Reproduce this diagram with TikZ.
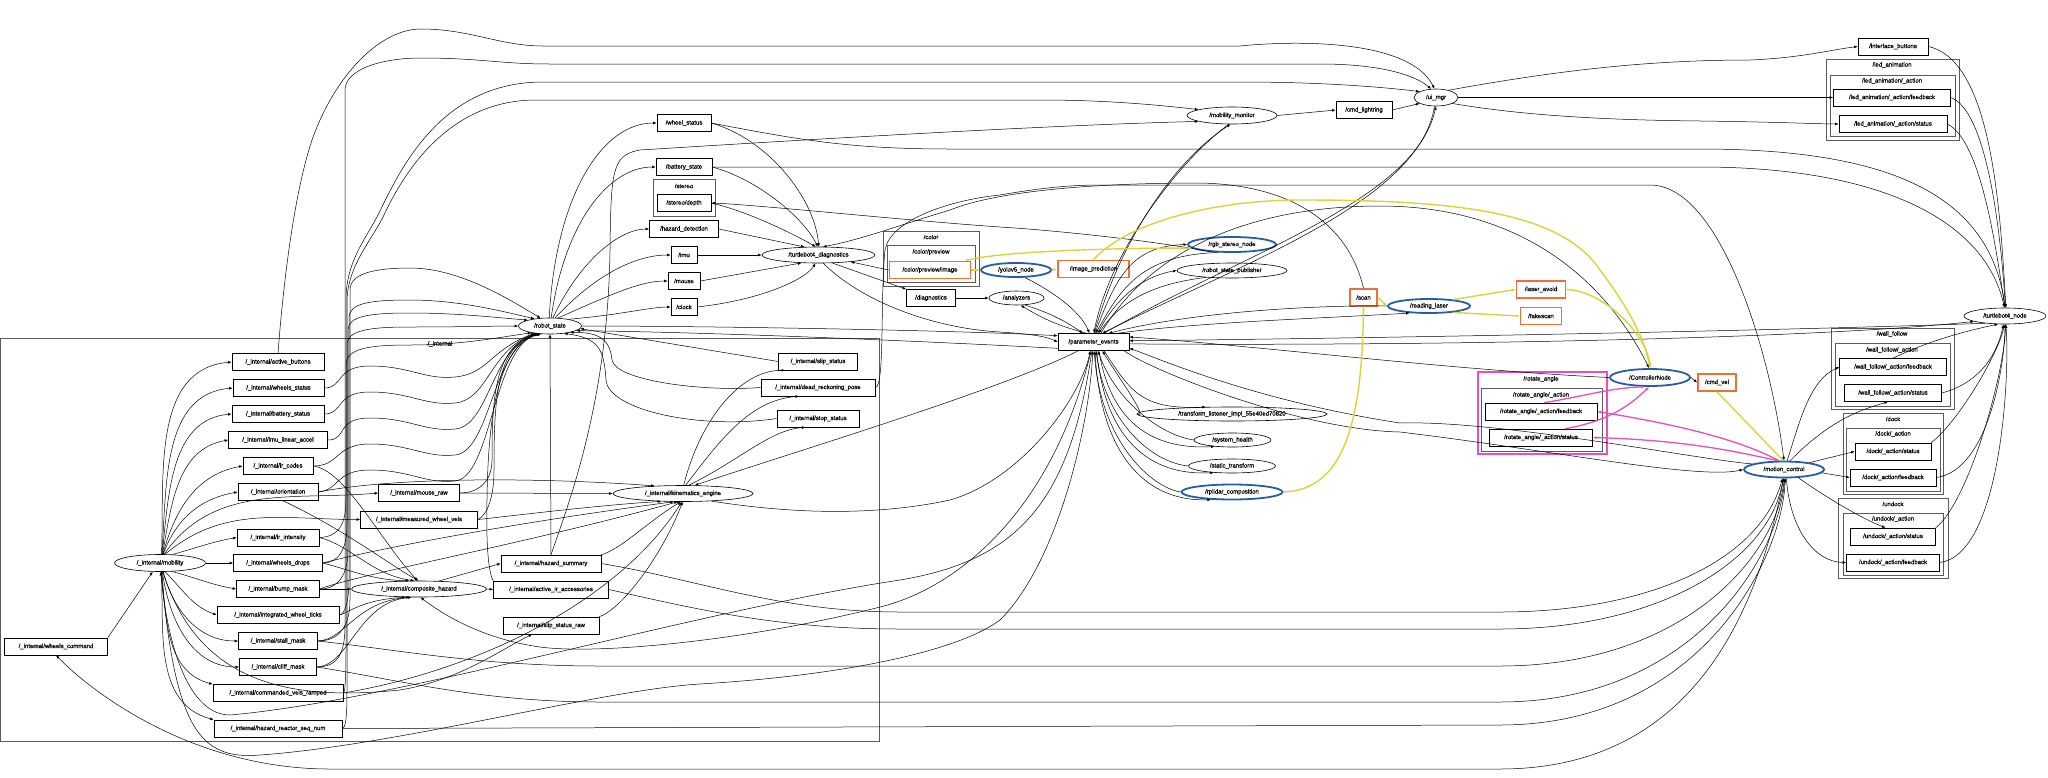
\documentclass[tikz,border=0pt]{standalone}
\usepackage{fontspec}
\setmainfont{Liberation Sans}
\newfontfamily\lblfont{Liberation Sans}[FakeBold=0.6]
\usetikzlibrary{arrows.meta,shapes.geometric}
\definecolor{orng}{RGB}{236,112,58}
\definecolor{bl}{RGB}{40,92,165}
\definecolor{yel}{RGB}{214,214,60}
\definecolor{pnk}{RGB}{228,80,190}
\definecolor{clg}{RGB}{90,90,90}
\newcommand\lbl{\lblfont\fontsize{6}{7}\selectfont}
\begin{document}
\begin{tikzpicture}[x=1pt,y=-1pt,
 tp/.style={draw, rectangle, minimum height=17pt, inner sep=0pt, line width=0.6pt, font=\lbl},
 nd/.style={draw, ellipse, minimum height=16pt, inner sep=0pt, line width=0.6pt, font=\lbl},
 hot/.style={draw=orng, line width=1.6pt},
 blu/.style={draw=bl, line width=1.8pt},
 ed/.style={-{Latex[length=3.6pt,width=2.8pt]}, line width=0.5pt},
 ye/.style={ed, draw=yel, line width=1.4pt},
 pk/.style={ed, draw=pnk, line width=1.3pt},
 clu/.style={draw=clg, line width=0.7pt},
 cll/.style={font=\lbl}]
\useasboundingbox[fill=white] (0,0) rectangle (2048,777);

% ---------- clusters ----------
\draw[clu] (0,338) rectangle (879,741);
\node[cll] (L1) at (440,344) {/\_internal};
\draw[clu] (653,179) rectangle (715,216);
\node[cll] (L2) at (684,186) {/stereo};
\draw[clu] (883,231) rectangle (979,286);
\node[cll] (L3) at (931,237) {/color};
\draw[clu] (887,245) rectangle (975,282);
\node[cll] (L4) at (931,252) {/color/preview};
\draw[clu] (1826,59) rectangle (1959,140);
\node[cll] (L5) at (1892,65) {/led\_animation};
\draw[clu] (1830,75) rectangle (1955,136);
\node[cll] (L6) at (1892,81) {/led\_animation/\_action};
\draw[clu] (1831,328) rectangle (1954,409);
\node[cll] (L7) at (1892,334) {/wall\_follow};
\draw[clu] (1835,343) rectangle (1950,406);
\node[cll] (L8) at (1892,350) {/wall\_follow/\_action};
\draw[draw=pnk, line width=1.5pt] (1478,372) rectangle (1607,454);
\node[cll] (L9) at (1541,379) {/rotate\_angle};
\draw[clu] (1481,388) rectangle (1602,451);
\node[cll] (L10) at (1541,395) {/rotate\_angle/\_action};
\draw[clu] (1843,413) rectangle (1943,494);
\node[cll] (L11) at (1893,419) {/dock};
\draw[clu] (1846,428) rectangle (1940,491);
\node[cll] (L12) at (1893,434) {/dock/\_action};
\draw[clu] (1838,498) rectangle (1948,578);
\node[cll] (L13) at (1893,504) {/undock};
\draw[clu] (1843,513) rectangle (1943,575);
\node[cll] (L14) at (1893,519) {/undock/\_action};

% ---------- topics ----------
\node[tp,minimum width=92pt] (ab) at (278,362) {/\_internal/active\_buttons};
\node[tp,minimum width=91pt] (ws) at (278.5,388) {/\_internal/wheels\_status};
\node[tp,minimum width=92pt] (bs) at (278,414) {/\_internal/battery\_status};
\node[tp,minimum width=99pt] (ila) at (278,440) {/\_internal/imu\_linear\_accel};
\node[tp,minimum width=70pt] (irc) at (278,466) {/\_internal/ir\_codes};
\node[tp,minimum width=80pt] (ori) at (278,492) {/\_internal/orientation};
\node[tp,minimum width=81pt] (mr) at (419,493) {/\_internal/mouse\_raw};
\node[tp,minimum width=117pt] (mwv) at (419,519.5) {/\_internal/measured\_wheel\_vels};
\node[tp,minimum width=82pt] (iri) at (278,537.5) {/\_internal/ir\_intensity};
\node[tp,minimum width=89pt] (wd) at (278,563) {/\_internal/wheels\_drops};
\node[tp,minimum width=83pt] (bm) at (278,589) {/\_internal/bump\_mask};
\node[tp,minimum width=122pt] (iwt) at (278,615) {/\_internal/integrated\_wheel\_ticks};
\node[tp,minimum width=79pt] (sm) at (278,641) {/\_internal/stall\_mask};
\node[tp,minimum width=77pt] (cm) at (278,667) {/\_internal/cliff\_mask};
\node[tp,minimum width=130pt] (cvr) at (278,693) {/\_internal/commanded\_vels\_ramped};
\node[tp,minimum width=128pt] (hrs) at (278,728.5) {/\_internal/hazard\_reactor\_seq\_num};
\node[tp,minimum width=103pt] (wc) at (56,646.5) {/\_internal/wheels\_command};
\node[tp,minimum width=100pt] (hs) at (551,563.5) {/\_internal/hazard\_summary};
\node[tp,minimum width=115pt] (aia) at (551,589.5) {/\_internal/active\_ir\_accessories};
\node[tp,minimum width=96pt] (ssr) at (551,625.5) {/\_internal/slip\_status\_raw};
\node[tp,minimum width=79pt] (ss) at (818,361.5) {/\_internal/slip\_status};
\node[tp,minimum width=114pt] (drp) at (818,387.5) {/\_internal/dead\_reckoning\_pose};
\node[tp,minimum width=82pt] (sts) at (818,418.5) {/\_internal/stop\_status};
\node[tp,minimum width=54pt] (whs) at (684,123) {/wheel\_status};
\node[tp,minimum width=56pt] (bst) at (684,167) {/battery\_state};
\node[tp,minimum width=54pt] (sd) at (684,203) {/stereo/depth};
\node[tp,minimum width=69pt] (hd) at (684,229) {/hazard\_detection};
\node[tp,minimum width=26pt] (imu) at (684,255) {/imu};
\node[tp,minimum width=32pt] (mou) at (684,281) {/mouse};
\node[tp,minimum width=26pt] (clk) at (684,307) {/clock};
\node[tp,hot,minimum width=81pt] (cpi) at (930,270) {/color/preview/image};
\node[tp,minimum width=49pt] (dg) at (931,298) {/diagnostics};
\node[tp,hot,minimum width=71pt] (ip) at (1093.5,269) {/image\_prediction};
\node[tp,minimum width=71pt] (pe) at (1093.5,342) {/parameter\_events};
\node[tp,hot,minimum width=27pt] (scan) at (1363.5,297.5) {/scan};
\node[tp,hot,minimum width=49pt] (la) at (1541,289.5) {/laser\_avoid};
\node[tp,hot,minimum width=41pt] (fs) at (1541,316) {/fakescan};
\node[tp,hot,minimum width=38pt] (cv) at (1717,382.5) {/cmd\_vel};
\node[tp,minimum width=56pt] (clr) at (1364,110) {/cmd\_lightring};
\node[tp,minimum width=70pt] (ib) at (1893,46.5) {/interface\_buttons};
\node[tp,minimum width=117pt] (lf) at (1892,97.5) {/led\_animation/\_action/feedback};
\node[tp,minimum width=108pt] (ls) at (1893,124) {/led\_animation/\_action/status};
\node[tp,minimum width=107pt] (wff) at (1893,367) {/wall\_follow/\_action/feedback};
\node[tp,minimum width=97pt] (wfs) at (1893,393) {/wall\_follow/\_action/status};
\node[tp,minimum width=112pt] (rf) at (1541,411.5) {/rotate\_angle/\_action/feedback};
\node[tp,minimum width=103pt] (rs) at (1541,437.5) {/rotate\_angle/\_action/status};
\node[tp,minimum width=76pt] (dks) at (1893,451.5) {/dock/\_action/status};
\node[tp,minimum width=86pt] (dkf) at (1893,477.5) {/dock/\_action/feedback};
\node[tp,minimum width=85pt] (uds) at (1893,536.5) {/undock/\_action/status};
\node[tp,minimum width=93pt] (udf) at (1893,562.5) {/undock/\_action/feedback};

% ---------- nodes ----------
\node[nd,minimum width=91pt,minimum height=17pt] (mob) at (160,563) {/\_internal/mobility};
\node[nd,minimum width=135pt] (ch) at (419,589) {/\_internal/composite\_hazard};
\node[nd,minimum width=140pt] (ke) at (683,493.5) {/\_internal/kinematics\_engine};
\node[nd,minimum width=63pt] (rst) at (550,326) {/robot\_state};
\node[nd,minimum width=113pt] (td) at (818.5,255) {/turtlebot4\_diagnostics};
\node[nd,minimum width=55pt,minimum height=14pt] (an) at (1016.5,298) {/analyzers};
\node[nd,blu,minimum width=70pt,minimum height=14pt] (yolo) at (1016,270) {/yolov5\_node};
\node[nd,blu,minimum width=88pt,minimum height=15pt] (rgb) at (1232,244.5) {/rgb\_stereo\_node};
\node[nd,minimum width=110pt,minimum height=15pt] (rsp) at (1232,270.5) {/robot\_state\_publisher};
\node[nd,minimum width=190pt,minimum height=14pt] (tl) at (1232,414) {/transform\_listener\_impl\_55e40ed70820};
\node[nd,minimum width=77pt,minimum height=14pt] (sh) at (1232.5,440) {/system\_health};
\node[nd,minimum width=87pt,minimum height=14pt] (stf) at (1232,466) {/static\_transform};
\node[nd,blu,minimum width=101pt,minimum height=15pt] (rp) at (1232,492) {/rplidar\_composition};
\node[nd,minimum width=90pt,minimum height=17pt] (mm) at (1232,115.5) {/mobility\_monitor};
\node[nd,minimum width=44pt,minimum height=17pt] (ui) at (1436,97.5) {/ui\_mgr};
\node[nd,blu,minimum width=82pt,minimum height=14pt] (rl) at (1429,306) {/reading\_laser};
\node[nd,blu,minimum width=80pt,minimum height=17pt] (cn) at (1650,377.5) {/ControllerNode};
\node[nd,blu,minimum width=80pt] (mc) at (1784,469.5) {/motion\_control};
\node[nd,minimum width=82pt] (tbn) at (2005,316) {/turtlebot4\_node};

% ---------- mobility fan-out ----------
\draw[ed] (mob.80) to[out=88,in=185] (ab.west);
\draw[ed] (mob.78) to[out=86,in=185] (ws.west);
\draw[ed] (mob.76) to[out=84,in=185] (bs.west);
\draw[ed] (mob.74) to[out=80,in=190] (ila.west);
\draw[ed] (mob.72) to[out=75,in=190] (irc.west);
\draw[ed] (mob.70) to[out=70,in=190] (ori.west);
\draw[ed] (mob.65) to[out=55,in=185] (mr.west);
\draw[ed] (mob.60) to[out=40,in=180] (mwv.west);
\draw[ed] (mob.35) to[out=15,in=190] (iri.west);
\draw[ed] (mob.east) -- (wd.west);
\draw[ed] (mob.-35) to[out=-15,in=170] (bm.west);
\draw[ed] (mob.-60) to[out=-45,in=160] (iwt.west);
\draw[ed] (mob.-70) to[out=-75,in=180] (sm.west);
\draw[ed] (mob.-75) to[out=-82,in=180] (cm.west);
\draw[ed] (mob.-78) to[out=-85,in=165] (cvr.north west);
\draw[ed] (mob.-80) to[out=-88,in=165] (hrs.north west);
\draw[ed] (wc.north east) -- (mob.-130);

% ---------- waves to robot_state ----------
\draw[ed] (ws.east) .. controls (344,388) and (335,366) .. (370,366) .. controls (410,366) and (425,380) .. (455,377) .. controls (488,374) and (490,350) .. (rst.205);
\draw[ed] (bs.east) .. controls (344,414) and (335,392) .. (370,392) .. controls (410,392) and (425,406) .. (455,403) .. controls (488,400) and (490,350) .. (rst.207);
\draw[ed] (ila.east) .. controls (348,440) and (335,418) .. (370,418) .. controls (410,418) and (425,432) .. (455,429) .. controls (489,426) and (491,350) .. (rst.209);
\draw[ed] (irc.east) .. controls (340,466) and (335,444) .. (370,444) .. controls (410,444) and (425,458) .. (455,455) .. controls (490,452) and (492,350) .. (rst.211);
\draw[ed] (ori.east) .. controls (340,490) and (335,470) .. (370,470) .. controls (410,470) and (425,484) .. (455,481) .. controls (491,478) and (493,350) .. (rst.213);
\draw[ed] (mr.east) .. controls (478,493) and (492,482) .. (492,460) .. controls (492,400) and (494,345) .. (rst.215);
\draw[ed] (mwv.east) .. controls (486,516) and (494,500) .. (494,470) .. controls (494,400) and (496,345) .. (rst.218);
\draw[ed] (aia.north west) .. controls (488,572) and (486,540) .. (487,500) .. controls (488,420) and (497,345) .. (rst.222);

% ---------- bundle x~347 ----------
\draw[ed] (iri.east) .. controls (338,537) and (346,525) .. (346,500) -- (346,365) .. controls (346,348) and (370,345) .. (410,345) .. controls (460,345) and (495,338) .. (rst.200);
\draw[ed] (wd.east) .. controls (338,563) and (347,550) .. (347,525) -- (347,345) .. controls (347,330) and (370,327) .. (410,327) .. controls (460,327) and (495,326) .. (rst.west);
\draw[ed] (bm.east) .. controls (338,589) and (348,575) .. (348,550) -- (348,330) .. controls (348,316) and (370,313) .. (410,313) .. controls (460,313) and (500,318) .. (rst.165);
\draw[ed] (iwt.east) .. controls (345,615) and (349,600) .. (349,580) -- (349,318) .. controls (349,303) and (370,300) .. (410,300) .. controls (460,300) and (505,312) .. (rst.155);
\draw[ed] (sm.east) .. controls (340,641) and (350,625) .. (350,600) -- (350,290) .. controls (350,275) and (370,268) .. (410,268) .. controls (460,268) and (510,300) .. (rst.140);
\draw[ed] (cm.east) .. controls (340,667) and (345,650) .. (345,625) -- (345,90) .. controls (345,70) and (380,58) .. (421,58) .. controls (480,58) and (500,64) .. (550,64) -- (1320,64) .. controls (1380,64) and (1415,75) .. (ui.120);
\draw[ed] (cvr.east) .. controls (345,693) and (346,680) .. (346,650) -- (346,300) .. controls (346,262) and (365,240) .. (378,215) .. controls (400,170) and (440,82) .. (543,82) -- (1240,82) .. controls (1330,82) and (1390,88) .. (ui.160);
\draw[ed] (hrs.east) .. controls (346,728) and (347,715) .. (347,690) -- (347,300) .. controls (348,265) and (372,240) .. (384,215) .. controls (405,170) and (450,100) .. (536,100) -- (1040,100) .. controls (1100,100) and (1150,104) .. (mm.170);
\draw[ed] (ab.north) .. controls (282,300) and (292,200) .. (312,140) .. controls (335,75) and (380,29) .. (421,29) .. controls (470,29) and (500,46) .. (543,46) -- (1240,46) .. controls (1300,40) and (1410,40) .. (ui.100);

% ---------- hazard summary ----------
\draw[ed] (hs.north) -- (rst.south);
\draw[ed] (hs.north) .. controls (570,500) and (608,400) .. (610,250) .. controls (611,170) and (612,155) .. (640,150) .. controls (800,140) and (1050,125) .. (mm.190);

% ---------- robot_state to topics ----------
\draw[ed] (rst.95) .. controls (555,200) and (600,123) .. (whs.west);
\draw[ed] (rst.82) .. controls (565,220) and (610,167) .. (bst.west);
\draw[ed] (rst.70) .. controls (580,260) and (620,229) .. (hd.west);
\draw[ed] (rst.58) .. controls (600,270) and (640,255) .. (imu.west);
\draw[ed] (rst.45) .. controls (610,295) and (640,281) .. (mou.west);
\draw[ed] (rst.20) .. controls (620,315) and (650,307) .. (clk.west);

% ---------- topics to diagnostics ----------
\draw[ed] (whs.east) .. controls (770,140) and (815,200) .. (td.88);
\draw[ed] (bst.east) .. controls (760,180) and (805,220) .. (td.95);
\draw[ed] (sd.east) .. controls (750,212) and (795,235) .. (td.108);
\draw[ed] (hd.east) -- (td.150);
\draw[ed] (imu.east) -- (td.west);
\draw[ed] (mou.east) -- (td.205);
\draw[ed] (clk.east) .. controls (760,300) and (805,280) .. (td.250);
\draw[ed] (cpi.west) -- (td.-12);
\draw[ed] (td.-30) -- (dg.north west);
\draw[ed] (dg.east) -- (an.west);
\draw[ed] (scan.north) .. controls (1350,230) and (1300,185) .. (1200,183) .. controls (1100,183) and (1000,190) .. (950,210) .. controls (900,225) and (860,240) .. (td.62);
\draw[ed] (rgb.200) .. controls (1150,240) and (1050,230) .. (1000,227) .. controls (900,220) and (760,205) .. (sd.east);

% ---------- to turtlebot4_node (top) ----------
\draw[ed] (whs.east) .. controls (800,140) and (850,149) .. (950,149) -- (1700,149) .. controls (1900,149) and (1990,200) .. (tbn.88);
\draw[ed] (bst.east) -- (1700,167) .. controls (1880,167) and (1985,220) .. (tbn.94);
\draw[ed] (drp.east) .. controls (885,387) and (880,300) .. (885,250) .. controls (890,220) and (950,200) .. (1000,195) .. controls (1040,188) and (1070,185) .. (1100,185) -- (1650,185) .. controls (1720,185) and (1770,350) .. (mc.north);

% ---------- kinematics ----------
\draw[ed] (ss.west) -- (rst.-5);
\draw[ed] (drp.west) .. controls (700,392) and (615,380) .. (612,360) .. controls (610,340) and (600,332) .. (rst.-18);
\draw[ed] (sts.west) .. controls (700,430) and (608,410) .. (606,380) .. controls (604,348) and (598,338) .. (rst.-28);
\draw[ed] (ke.85) .. controls (700,420) and (740,370) .. (ss.195);
\draw[ed] (ke.72) .. controls (720,440) and (750,400) .. (drp.205);
\draw[ed] (ke.55) .. controls (740,460) and (770,430) .. (sts.215);
\draw[ed] (ori.east) .. controls (400,476) and (550,478) .. (ke.165);
\draw[ed] (mr.east) -- (ke.west);
\draw[ed] (mwv.east) .. controls (520,515) and (600,505) .. (ke.200);
\draw[ed] (wd.east) .. controls (380,548) and (520,522) .. (ke.222);
\draw[ed] (bm.east) .. controls (355,575) and (520,545) .. (ke.238);
\draw[ed] (hs.north east) .. controls (620,550) and (650,520) .. (ke.255);
\draw[ed] (ssr.north east) .. controls (620,610) and (660,560) .. (ke.268);
\draw[ed] (cvr.east) .. controls (480,670) and (620,600) .. (ke.262);
\draw[ed] (pe.210) .. controls (1000,390) and (800,450) .. (ke.35);
\draw[ed] (ke.-15) .. controls (800,515) and (880,515) .. (950,500) .. controls (1020,480) and (1080,400) .. (pe.250);

% ---------- composite hazard ----------
\draw[ed] (irc.east) .. controls (345,470) and (380,540) .. (ch.100);
\draw[ed] (ori.-60) .. controls (345,530) and (390,565) .. (ch.93);
\draw[ed] (iri.east) .. controls (350,545) and (372,575) .. (ch.120);
\draw[ed] (wd.east) .. controls (350,570) and (372,580) .. (ch.140);
\draw[ed] (bm.east) -- (ch.west);
\draw[ed] (iwt.east) .. controls (350,612) and (362,600) .. (ch.212);
\draw[ed] (sm.east) .. controls (345,640) and (355,602) .. (ch.222);
\draw[ed] (cm.east) .. controls (350,665) and (358,602) .. (ch.228);
\draw[ed] (ch.22) -- (hs.west);
\draw[ed] (ch.east) -- (aia.west);
\draw[ed] (pe.255) .. controls (1050,520) and (950,590) .. (880,607) .. controls (750,640) and (600,655) .. (540,647) .. controls (490,640) and (450,620) .. (ch.-80);

% ---------- mobility / wheels ----------
\draw[ed] (mob.-82) .. controls (175,730) and (200,760) .. (260,755) .. controls (400,745) and (600,690) .. (700,684) .. controls (850,675) and (960,650) .. (1000,620) .. controls (1060,560) and (1090,420) .. (pe.265);
\draw[ed] (pe.260) .. controls (1070,500) and (1020,560) .. (900,580) .. controls (700,610) and (400,700) .. (230,715) .. controls (190,715) and (168,650) .. (mob.-86);
\draw[ed] (mob.-72) .. controls (200,690) and (300,700) .. (400,690) .. controls (460,680) and (500,650) .. (ssr.205);
\draw[ed] (mc.-92) .. controls (1760,600) and (1700,769) .. (1500,769) -- (330,769) .. controls (200,769) and (100,700) .. (wc.south);

% ---------- internal to motion_control ----------
\draw[ed] (hs.east) .. controls (700,580) and (780,612) .. (900,612) -- (1500,612) .. controls (1650,612) and (1760,560) .. (mc.-100);
\draw[ed] (aia.east) .. controls (700,610) and (780,629) .. (900,629) -- (1500,629) .. controls (1660,629) and (1770,560) .. (mc.-96);
\draw[ed] (sm.east) .. controls (400,650) and (480,666) .. (600,666) -- (1500,666) .. controls (1680,666) and (1775,560) .. (mc.-88);
\draw[ed] (cm.east) .. controls (400,680) and (480,702) .. (600,702) -- (1500,702) .. controls (1690,702) and (1778,560) .. (mc.-85);
\draw[ed] (hrs.east) -- (1500,725) .. controls (1700,725) and (1782,560) .. (mc.-82);

% ---------- parameter_events ----------
\draw[ed] (rst.east) .. controls (700,326) and (950,330) .. (pe.170);
\draw[ed] (pe.190) .. controls (900,340) and (700,332) .. (rst.-10);
\draw[ed] (td.-60) .. controls (860,300) and (930,328) .. (1000,332) .. controls (1030,334) and (1045,336) .. (pe.180);
\draw[ed] (an.-40) to[bend left=8] (pe.140);
\draw[ed] (pe.130) to[bend left=8] (an.-60);
\draw[ed] (yolo.-40) .. controls (1050,290) and (1080,310) .. (pe.115);
\draw[ed] (rgb.210) .. controls (1140,255) and (1120,290) .. (pe.75);
\draw[ed] (pe.80) .. controls (1115,280) and (1130,246) .. (rgb.west);
\draw[ed] (pe.65) .. controls (1120,290) and (1150,275) .. (rsp.west);
\draw[ed] (rsp.195) .. controls (1140,285) and (1115,310) .. (pe.60);
\draw[ed] (mm.-110) .. controls (1180,160) and (1110,250) .. (pe.88);
\draw[ed] (pe.85) .. controls (1120,240) and (1175,160) .. (mm.-100);
\draw[ed] (ui.-100) .. controls (1420,200) and (1250,260) .. (pe.45);
\draw[ed] (pe.40) .. controls (1250,250) and (1415,200) .. (ui.-90);
\draw[ed] (pe.-40) .. controls (1130,390) and (1140,410) .. (tl.165);
\draw[ed] (tl.west) .. controls (1150,420) and (1120,380) .. (pe.-45);
\draw[ed] (pe.-58) .. controls (1110,420) and (1150,450) .. (sh.200);
\draw[ed] (sh.west) .. controls (1160,435) and (1115,400) .. (pe.-63);
\draw[ed] (pe.-70) .. controls (1105,440) and (1150,476) .. (stf.200);
\draw[ed] (stf.west) .. controls (1150,462) and (1105,420) .. (pe.-74);
\draw[ed] (pe.-80) .. controls (1100,460) and (1150,502) .. (rp.200);
\draw[ed] (rp.west) .. controls (1150,487) and (1100,440) .. (pe.-85);
\draw[ed] (rl.west) .. controls (1330,305) and (1200,310) .. (pe.30);
\draw[ed] (pe.20) .. controls (1200,322) and (1330,318) .. (rl.200);
\draw[ed] (cn.west) .. controls (1450,370) and (1250,345) .. (pe.8);
\draw[ed] (pe.50) .. controls (1150,250) and (1250,206) .. (1380,206) .. controls (1500,206) and (1595,260) .. (cn.95);
\draw[ed] (tbn.200) .. controls (1800,330) and (1400,338) .. (pe.2);
\draw[ed] (pe.-3) .. controls (1400,346) and (1800,340) .. (tbn.190);
\draw[ed] (mc.170) .. controls (1700,460) and (1500,420) .. (1400,423) .. controls (1250,400) and (1150,355) .. (pe.-10);
\draw[ed] (pe.-16) .. controls (1150,370) and (1300,430) .. (1400,432) .. controls (1550,450) and (1700,480) .. (mc.west);

% ---------- ui / right side ----------
\draw[ed] (mm.east) -- (clr.west);
\draw[ed] (clr.east) -- (ui.200);
\draw[ed] (ui.30) .. controls (1560,70) and (1650,60) .. (1750,60) .. controls (1800,58) and (1830,50) .. (ib.west);
\draw[ed] (ui.east) -- (lf.west);
\draw[ed] (ui.-20) .. controls (1520,115) and (1600,120) .. (1700,121) .. controls (1780,122) and (1820,124) .. (ls.west);
\draw[ed] (ib.east) .. controls (1990,60) and (2000,200) .. (tbn.84);
\draw[ed] (lf.east) .. controls (1985,110) and (2000,220) .. (tbn.87);
\draw[ed] (ls.east) .. controls (1980,140) and (1995,240) .. (tbn.91);
\draw[ed] (mc.70) .. controls (1800,420) and (1810,380) .. (wff.west);
\draw[ed] (mc.55) .. controls (1830,420) and (1860,410) .. (wfs.-120);
\draw[ed] (mc.15) -- (dks.west);
\draw[ed] (mc.-5) -- (dkf.west);
\draw[ed] (mc.-30) .. controls (1830,500) and (1865,520) .. (uds.130);
\draw[ed] (mc.-75) .. controls (1790,530) and (1815,562) .. (udf.west);
\draw[ed] (wff.north) .. controls (1930,340) and (1970,330) .. (tbn.-130);
\draw[ed] (wfs.east) .. controls (1990,380) and (2000,340) .. (tbn.-100);
\draw[ed] (dks.north east) .. controls (1960,420) and (2000,350) .. (tbn.-95);
\draw[ed] (dkf.east) .. controls (1990,470) and (2005,360) .. (tbn.-90);
\draw[ed] (uds.north east) .. controls (1970,500) and (2005,370) .. (tbn.-87);
\draw[ed] (udf.east) .. controls (2000,555) and (2010,380) .. (tbn.-84);
\draw[ed] (cn.east) -- (cv.west);

% ---------- pink ----------
\draw[pk] (mc.120) .. controls (1740,440) and (1680,425) .. (rf.east);
\draw[pk] (mc.125) .. controls (1730,450) and (1680,440) .. (rs.east);
\draw[pk] (rf.70) .. controls (1590,395) and (1610,388) .. (cn.-120);
\draw[pk] (rs.20) .. controls (1615,420) and (1635,400) .. (cn.-95);

% ---------- yellow ----------
\draw[ye] (rgb.185) .. controls (1100,248) and (1000,252) .. (cpi.15);
\draw[ye] (cpi.east) -- (yolo.west);
\draw[ye] (yolo.east) -- (ip.west);
\draw[ye] (ip.north) .. controls (1130,220) and (1220,200) .. (1300,200) .. controls (1450,200) and (1560,210) .. (1600,270) .. controls (1630,310) and (1645,340) .. (cn.north);
\draw[ye] (rp.east) .. controls (1345,490) and (1362,420) .. (scan.south);
\draw[ye] (scan.east) -- (rl.west);
\draw[ye] (rl.15) -- (la.west);
\draw[ye] (rl.-15) -- (fs.west);
\draw[ye] (la.east) .. controls (1600,290) and (1645,330) .. (cn.85);
\draw[ye] (cv.south) -- (mc.95);
\end{tikzpicture}
\end{document}
